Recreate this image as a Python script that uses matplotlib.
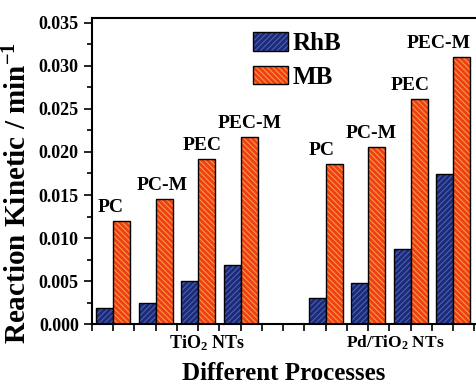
import matplotlib
matplotlib.use('Agg')
import matplotlib.pyplot as plt
from matplotlib.patches import Patch
import numpy as np

plt.rcParams['font.family'] = 'Liberation Serif'
plt.rcParams['font.weight'] = 'bold'
plt.rcParams['mathtext.fontset'] = 'custom'
plt.rcParams['mathtext.rm'] = 'Liberation Serif:bold'
plt.rcParams['mathtext.it'] = 'Liberation Serif:bold'
plt.rcParams['mathtext.bf'] = 'Liberation Serif:bold'
plt.rcParams['hatch.linewidth'] = 0.8

processes = ['PC', 'PC-M', 'PEC', 'PEC-M']
groups = ['TiO$_2$ NTs', 'Pd/TiO$_2$ NTs']
rhb = [0.00186, 0.0025, 0.00502, 0.00688, 0.00302, 0.00476, 0.00873, 0.01744]
mb = [0.01198, 0.0145, 0.01914, 0.02176, 0.01856, 0.0206, 0.0261, 0.0310]
pos = [1, 2, 3, 4, 6, 7, 8, 9]

blue = '#1c2a78'
blue_h = '#4a62b0'
red = '#f23c1c'
red_h = '#f0a030'

fig = plt.figure(figsize=(4.76, 3.85), dpi=100)
ax = fig.add_axes([92/476, 1-324.3/385, 1-92/476, (324.3-18.3)/385])

w = 0.4
x = np.array(pos)
ax.bar(x - w/2, rhb, w, color=blue, edgecolor=blue_h, hatch='//////', linewidth=0)
ax.bar(x - w/2, rhb, w, fill=False, edgecolor='black', linewidth=1.0)
ax.bar(x + w/2, mb, w, color=red, edgecolor=red_h, hatch='\\\\\\\\\\\\', linewidth=0)
ax.bar(x + w/2, mb, w, fill=False, edgecolor='black', linewidth=1.0)

label_dx = [-0.05, 0.15, 0.1, 0.22, -0.1, 0.07, 0.0, -0.33]
for i, p in enumerate(pos):
    ax.annotate(processes[i % 4], (p + label_dx[i], mb[i]), xytext=(0, 6.5),
                textcoords='offset points', ha='center', va='baseline',
                fontsize=14, fontweight='bold')

ax.set_xlim(0.5, 9.54)
ax.set_ylim(0, 0.0355)
ax.set_yticks(np.arange(0, 0.0351, 0.005))
ax.set_yticks(np.arange(0.0025, 0.035, 0.005), minor=True)
ax.set_yticklabels(['%.3f' % v for v in np.arange(0, 0.0351, 0.005)], fontsize=13)
ax.set_xticks(np.arange(0.5, 9.6, 0.5))
ax.set_xticklabels([])
ax.tick_params(axis='x', direction='out', length=5, width=1.2)
ax.tick_params(axis='y', which='major', direction='out', length=6, width=1.2)
ax.tick_params(axis='y', which='minor', direction='out', length=3.5, width=1.2)
ax.spines['right'].set_visible(False)
for s in ['left', 'top', 'bottom']:
    ax.spines[s].set_linewidth(1.5)

for gx, g, fs in zip([3.21, 7.64], groups, [13, 12.5]):
    ax.text(gx, -0.0011, g, ha='center', va='top', fontsize=fs, fontweight='bold')

fig.text(18/476, 1-193/385, 'Reaction Kinetic / min$^{-1}$', rotation=90,
         ha='center', va='center', fontsize=21, fontweight='bold')
fig.text(284/476, 1-380/385, 'Different Processes', ha='center', va='baseline',
         fontsize=18, fontweight='bold')

h_rhb = (Patch(facecolor=blue, edgecolor=blue_h, hatch='//////', linewidth=0),
         Patch(fill=False, edgecolor='black', linewidth=1.0))
h_mb = (Patch(facecolor=red, edgecolor=red_h, hatch='\\\\\\\\\\\\', linewidth=0),
        Patch(fill=False, edgecolor='black', linewidth=1.0))
fig.legend([h_rhb, h_mb], ['RhB', 'MB'], loc='upper left',
           bbox_to_anchor=(253/476, 1-32/385), frameon=False,
           borderpad=0, borderaxespad=0, handlelength=1.4, handleheight=0.76,
           handletextpad=0.2, labelspacing=0.42,
           prop={'weight': 'bold', 'size': 18})

fig.savefig('out.png', dpi=100)
